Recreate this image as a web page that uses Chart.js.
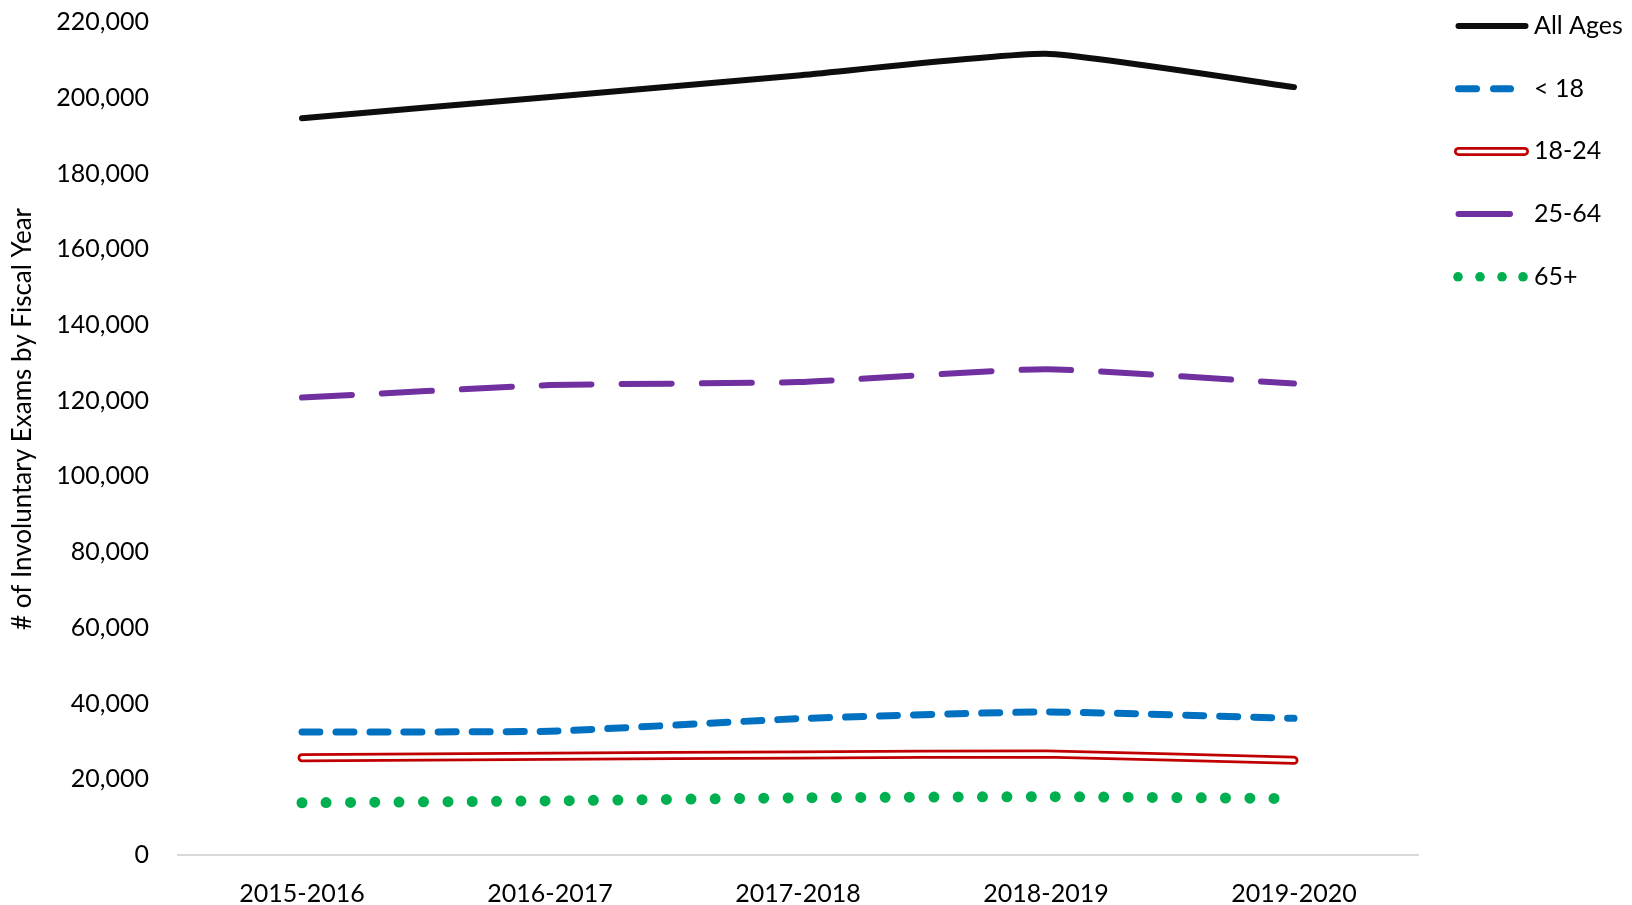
<!DOCTYPE html>
<html>
<head>
<meta charset="utf-8">
<title>Involuntary Exams by Fiscal Year</title>
<script src="https://cdn.jsdelivr.net/npm/chart.js@4.4.1/dist/chart.umd.min.js"></script>
<style>
  html, body { margin: 0; padding: 0; background: #fff; overflow: hidden; }
  #wrap { position: relative; width: 1632px; height: 905px; }
</style>
</head>
<body>
<div id="wrap"><canvas id="line-chart"></canvas></div>
<script>
// Chart data
// ------------------------------
var years = ["2015-2016", "2016-2017", "2017-2018", "2018-2019", "2019-2020"];

var allAges   = [194600, 200200, 205900, 211600, 202800];
var under18   = [32500, 32700, 36000, 37800, 36100];
var age18to24 = [25700, 26100, 26400, 26700, 25000];
var age25to64 = [120800, 124100, 124900, 128300, 124500];
var age65plus = [13800, 14300, 15100, 15400, 14900];

var yMin = 0, yMax = 220000, yStep = 20000;
var yTitle = '# of Involuntary Exams by Fiscal Year';

var FONT = "Lato, 'Open Sans', sans-serif";

// Legend drawn on the right, one row per series, plus the y axis title
var sideLegend = {
    id: 'sideLegend',
    afterDraw: function(chart) {
        var ctx = chart.ctx;
        var rowY = 26, rowGap = 62.7;
        ctx.save();
        chart.data.datasets.forEach(function(ds) {
            if (!ds.legendStyle) return;
            var y = rowY;
            ctx.lineCap = 'round';
            ctx.setLineDash([]);
            if (ds.legendStyle === 'solid') {
                ctx.strokeStyle = ds.borderColor; ctx.lineWidth = 6;
                ctx.beginPath(); ctx.moveTo(1458.5, y); ctx.lineTo(1525.5, y); ctx.stroke();
            } else if (ds.legendStyle === 'dash') {
                ctx.strokeStyle = ds.borderColor; ctx.lineWidth = 7;
                ctx.beginPath();
                ctx.moveTo(1458.5, y); ctx.lineTo(1476.5, y);
                ctx.moveTo(1493.5, y); ctx.lineTo(1510.5, y);
                ctx.stroke();
            } else if (ds.legendStyle === 'double') {
                ctx.strokeStyle = ds.borderColor; ctx.lineWidth = 9;
                ctx.beginPath(); ctx.moveTo(1458.5, y); ctx.lineTo(1524.5, y); ctx.stroke();
                ctx.strokeStyle = '#ffffff'; ctx.lineWidth = 3.5;
                ctx.beginPath(); ctx.moveTo(1458.5, y); ctx.lineTo(1524.5, y); ctx.stroke();
            } else if (ds.legendStyle === 'longdash') {
                ctx.strokeStyle = ds.borderColor; ctx.lineWidth = 6;
                ctx.beginPath(); ctx.moveTo(1458.5, y); ctx.lineTo(1510, y); ctx.stroke();
            } else if (ds.legendStyle === 'dots') {
                ctx.fillStyle = ds.borderColor;
                [1458, 1480, 1502, 1523].forEach(function(cx) {
                    ctx.beginPath(); ctx.arc(cx, y, 4.8, 0, Math.PI * 2); ctx.fill();
                });
            }
            ctx.fillStyle = '#000000';
            ctx.font = '25px ' + FONT;
            ctx.textAlign = 'left';
            ctx.textBaseline = 'middle';
            ctx.fillText(ds.label, 1534, y);
            rowY += rowGap;
        });

        // y axis title, rotated
        ctx.translate(23, 419);
        ctx.rotate(-Math.PI / 2);
        ctx.font = '26px ' + FONT;
        ctx.textAlign = 'center';
        ctx.textBaseline = 'middle';
        ctx.fillStyle = '#000000';
        ctx.fillText(yTitle, 0, 0);
        ctx.restore();
    }
};

(function() {
    var ctx = document.getElementById('line-chart');

    var chartData = {
        labels: years,
        datasets: [{
            label: 'All Ages',
            data: allAges,
            borderColor: '#0d0d0d',
            borderWidth: 6,
            legendStyle: 'solid',
            order: 1
        }, {
            label: '< 18',
            data: under18,
            borderColor: '#0070C0',
            borderWidth: 7,
            borderDash: [18, 16],
            legendStyle: 'dash',
            order: 2
        }, {
            label: '18-24',
            data: age18to24,
            borderColor: '#C00000',
            borderWidth: 9,
            legendStyle: 'double',
            order: 4
        }, {
            label: '18-24 inner',
            data: age18to24,
            borderColor: '#ffffff',
            borderWidth: 3.5,
            order: 3
        }, {
            label: '25-64',
            data: age25to64,
            borderColor: '#7030A0',
            borderWidth: 6,
            borderDash: [50, 30],
            legendStyle: 'longdash',
            order: 5
        }, {
            label: '65+',
            data: age65plus,
            borderColor: '#00B050',
            borderWidth: 11,
            borderDash: [0.001, 24.3],
            legendStyle: 'dots',
            order: 6
        }]
    };

    var chartOptions = {
        responsive: true,
        maintainAspectRatio: false,
        animation: false,
        layout: {
            padding: { top: 22, right: 214, bottom: 0, left: 0 }
        },
        elements: {
            line: { tension: 0.15, borderCapStyle: 'round', borderJoinStyle: 'round', fill: false },
            point: { radius: 0, hoverRadius: 0 }
        },
        plugins: {
            legend: { display: false },
            tooltip: { enabled: false },
            title: { display: false }
        },
        scales: {
            x: {
                offset: true,
                grid: { display: false, drawTicks: false },
                border: { display: true, color: '#d9d9d9', width: 2 },
                ticks: { color: '#000000', padding: 24, font: { family: FONT, size: 25 } },
                afterFit: function(scale) {
                    scale.height = 50;
                    scale.paddingLeft = 0;
                    scale.paddingRight = 0;
                }
            },
            y: {
                min: yMin,
                max: yMax,
                grid: { display: false, drawTicks: false },
                border: { display: false },
                ticks: {
                    stepSize: yStep,
                    color: '#000000',
                    padding: 29,
                    font: { family: FONT, size: 25 },
                    callback: function(v) { return v.toLocaleString('en-US'); }
                },
                afterFit: function(scale) {
                    scale.width = 178;
                    scale.paddingTop = 0;
                    scale.paddingBottom = 0;
                }
            }
        }
    };

    new Chart(ctx, {
        type: 'line',
        data: chartData,
        options: chartOptions,
        plugins: [sideLegend]
    });
})();
</script>
</body>
</html>
